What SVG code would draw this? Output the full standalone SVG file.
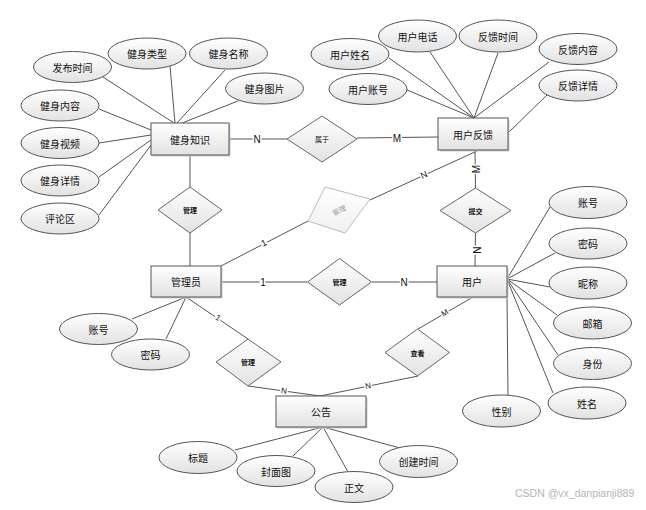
<svg xmlns="http://www.w3.org/2000/svg" width="646" height="510" viewBox="0 0 646 510">
<defs>
<linearGradient id="g" x1="0" y1="0" x2="0" y2="1"><stop offset="0" stop-color="#ffffff"/><stop offset="1" stop-color="#e2e2e2"/></linearGradient>
<linearGradient id="gl" x1="0" y1="0" x2="0" y2="1"><stop offset="0" stop-color="#ffffff"/><stop offset="1" stop-color="#f0f0f0"/></linearGradient>
</defs>
<style>
.e{fill:url(#g);stroke:#555;stroke-width:1}
.r{fill:url(#g);stroke:#555;stroke-width:1}
.sh{fill:#cfcfcf;stroke:none}
.d{fill:url(#g);stroke:#666;stroke-width:1}
.t{font-family:"Noto Sans CJK SC","Liberation Sans",sans-serif;font-size:10px;fill:#111;text-anchor:middle;dominant-baseline:central}
.dt{font-family:"Noto Sans CJK SC","Liberation Sans",sans-serif;font-size:7px;font-weight:bold;fill:#111;text-anchor:middle;dominant-baseline:central}
.c{font-family:"Liberation Sans",sans-serif;font-size:10px;fill:#111;text-anchor:middle;dominant-baseline:central;stroke:#fff;stroke-width:3px;paint-order:stroke}
.l{stroke:#555;stroke-width:1;fill:none}
</style>
<rect width="646" height="510" fill="#fff"/>
<g id="connectors">
<line class="l" x1="103" y1="77" x2="174" y2="123"/>
<line class="l" x1="170" y1="66" x2="175" y2="123"/>
<line class="l" x1="225" y1="70" x2="177" y2="123"/>
<line class="l" x1="238" y1="101" x2="182" y2="123"/>
<line class="l" x1="99" y1="109" x2="151" y2="130"/>
<line class="l" x1="99" y1="143" x2="151" y2="135"/>
<line class="l" x1="99" y1="177" x2="151" y2="140"/>
<line class="l" x1="99" y1="215" x2="151" y2="145"/>
<line class="l" x1="389" y1="58" x2="474" y2="118"/>
<line class="l" x1="430" y1="52" x2="474" y2="118"/>
<line class="l" x1="498" y1="53" x2="474" y2="118"/>
<line class="l" x1="549" y1="62" x2="474" y2="118"/>
<line class="l" x1="407" y1="90" x2="474" y2="118"/>
<line class="l" x1="547" y1="95" x2="508" y2="133"/>
<line class="l" x1="229" y1="139" x2="287" y2="139"/>
<line class="l" x1="357" y1="138" x2="438" y2="137"/>
<line class="l" x1="190" y1="155" x2="190" y2="187"/>
<line class="l" x1="190" y1="233" x2="190" y2="266"/>
<line class="l" x1="475" y1="150" x2="475.5" y2="188"/>
<line class="l" x1="475.5" y1="233" x2="475" y2="266"/>
<line class="l" x1="477" y1="151" x2="370" y2="200"/>
<line class="l" x1="308" y1="221" x2="221" y2="266"/>
<line class="l" x1="221" y1="282" x2="307" y2="282"/>
<line class="l" x1="372" y1="282" x2="437" y2="282"/>
<line class="l" x1="186" y1="297" x2="248" y2="339"/>
<line class="l" x1="248" y1="386" x2="320" y2="396"/>
<line class="l" x1="473" y1="297" x2="418" y2="329"/>
<line class="l" x1="418" y1="376" x2="320" y2="396"/>
<line class="l" x1="132" y1="319" x2="186" y2="297"/>
<line class="l" x1="166" y1="339" x2="186" y2="297"/>
<line class="l" x1="550" y1="207" x2="507" y2="279"/>
<line class="l" x1="555" y1="253" x2="507" y2="279"/>
<line class="l" x1="550" y1="287" x2="507" y2="279"/>
<line class="l" x1="557" y1="315" x2="507" y2="279"/>
<line class="l" x1="558" y1="355" x2="507" y2="279"/>
<line class="l" x1="553" y1="393" x2="507" y2="279"/>
<line class="l" x1="507" y1="297" x2="508" y2="395"/>
<line class="l" x1="235" y1="450" x2="323" y2="427"/>
<line class="l" x1="293" y1="456" x2="323" y2="427"/>
<line class="l" x1="348" y1="472" x2="323" y2="427"/>
<line class="l" x1="400" y1="448" x2="323" y2="427"/>
<text class="c" x="257" y="139">N</text>
<text class="c" x="397" y="138">M</text>
<text class="c" x="476" y="169" transform="rotate(-90 476 169)">M</text>
<text class="c" x="476" y="250" transform="rotate(90 476 250)">N</text>
<text class="c" x="424" y="175" style="font-size:9px" transform="rotate(-25 424 175)">N</text>
<text class="c" x="264" y="243" style="font-size:9px" transform="rotate(-27 264 243)">1</text>
<text class="c" x="263" y="282">1</text>
<text class="c" x="404" y="282">N</text>
<text class="c" x="218" y="318" style="font-size:8px" transform="rotate(34 218 318)">1</text>
<text class="c" x="284" y="391" style="font-size:8px" transform="rotate(8 284 391)">N</text>
<text class="c" x="445" y="313" style="font-size:8px" transform="rotate(-30 445 313)">M</text>
<text class="c" x="368" y="386" style="font-size:8px" transform="rotate(-11 368 386)">N</text>
</g>
<g id="n-jianshenzhishi"><rect class="sh" x="152.5" y="124.5" width="78" height="32"/><rect class="r" x="151" y="123" width="78" height="32"/><text class="t" x="190" y="139">健身知识</text></g>
<g id="n-yonghufankui"><rect class="sh" x="439.5" y="119.5" width="70" height="32"/><rect class="r" x="438" y="118" width="70" height="32"/><text class="t" x="473" y="134">用户反馈</text></g>
<g id="n-guanliyuan"><rect class="sh" x="152.5" y="267.5" width="70" height="31"/><rect class="r" x="151" y="266" width="70" height="31"/><text class="t" x="186" y="281.5">管理员</text></g>
<g id="n-yonghu"><rect class="sh" x="438.5" y="267.5" width="70" height="31"/><rect class="r" x="437" y="266" width="70" height="31"/><text class="t" x="472" y="281.5">用户</text></g>
<g id="n-gonggao"><rect class="sh" x="277.5" y="397.5" width="90" height="31"/><rect class="r" x="276" y="396" width="90" height="31"/><text class="t" x="321" y="411.5">公告</text></g>
<g id="r-shuyu"><polygon class="d" points="322,116 357,139 322,162 287,139"/><text class="dt" x="322" y="139" style="font-weight:normal">属于</text></g>
<g id="r-guanli1"><polygon class="d" points="190,187 222,210 190,233 158,210"/><text class="dt" x="190" y="210">管理</text></g>
<g id="r-guanli-gray"><polygon points="325,187 370,199 345,233 308,221" fill="url(#gl)" stroke="#bbb" stroke-width="1"/><text class="dt" x="339" y="210" style="fill:#999;font-weight:normal" transform="rotate(-25 339 210)">管理</text></g>
<g id="r-guanli2"><polygon class="d" points="339.5,258.5 371.5,282 339.5,305 307.5,282"/><text class="dt" x="339.5" y="282">管理</text></g>
<g id="r-tijiao"><polygon class="d" points="475.5,188 511,210.5 475.5,233 440,210.5"/><text class="dt" x="475.5" y="210.5">提交</text></g>
<g id="r-guanli3"><polygon class="d" points="248,339 281,362 248,386 216,362"/><text class="dt" x="248" y="362">管理</text></g>
<g id="r-chakan"><polygon class="d" points="417.5,329 449.5,352.5 417.5,376 385,352.5"/><text class="dt" x="417.5" y="352.5">查看</text></g>
<g id="a-fabushijian"><ellipse class="e" cx="72.5" cy="67" rx="39" ry="15.5"/><text class="t" x="72.5" y="67">发布时间</text></g>
<g id="a-jianshenleixing"><ellipse class="e" cx="147" cy="53.5" rx="39" ry="15.5"/><text class="t" x="147" y="53.5">健身类型</text></g>
<g id="a-jianshenmingcheng"><ellipse class="e" cx="228.5" cy="53.5" rx="39" ry="15.5"/><text class="t" x="228.5" y="53.5">健身名称</text></g>
<g id="a-jianshentupian"><ellipse class="e" cx="264.5" cy="88.5" rx="39" ry="15.5"/><text class="t" x="264.5" y="88.5">健身图片</text></g>
<g id="a-jianshenneirong"><ellipse class="e" cx="60" cy="105.5" rx="39" ry="15.5"/><text class="t" x="60" y="105.5">健身内容</text></g>
<g id="a-jianshenshipin"><ellipse class="e" cx="60" cy="143" rx="39" ry="15.5"/><text class="t" x="60" y="143">健身视频</text></g>
<g id="a-jianshenxiangqing"><ellipse class="e" cx="60" cy="180.5" rx="39" ry="15.5"/><text class="t" x="60" y="180.5">健身详情</text></g>
<g id="a-pinglunqu"><ellipse class="e" cx="60" cy="218.5" rx="39" ry="15.5"/><text class="t" x="60" y="218.5">评论区</text></g>
<g id="a-yonghuxingming"><ellipse class="e" cx="350" cy="54" rx="39" ry="15.5"/><text class="t" x="350" y="54">用户姓名</text></g>
<g id="a-yonghudianhua"><ellipse class="e" cx="417.5" cy="36" rx="39" ry="16"/><text class="t" x="417.5" y="36">用户电话</text></g>
<g id="a-fankuishijian"><ellipse class="e" cx="498" cy="36" rx="39" ry="16"/><text class="t" x="498" y="36">反馈时间</text></g>
<g id="a-fankuineirong"><ellipse class="e" cx="578" cy="49" rx="39" ry="15.5"/><text class="t" x="578" y="49">反馈内容</text></g>
<g id="a-fankuixiangqing"><ellipse class="e" cx="578" cy="85.5" rx="39" ry="15.5"/><text class="t" x="578" y="85.5">反馈详情</text></g>
<g id="a-yonghuzhanghao"><ellipse class="e" cx="368" cy="89" rx="39" ry="15.5"/><text class="t" x="368" y="89">用户账号</text></g>
<g id="a-zhanghao-u"><ellipse class="e" cx="588" cy="202.5" rx="39" ry="16"/><text class="t" x="588" y="202.5">账号</text></g>
<g id="a-mima-u"><ellipse class="e" cx="588" cy="243.5" rx="39" ry="15.5"/><text class="t" x="588" y="243.5">密码</text></g>
<g id="a-nicheng"><ellipse class="e" cx="588" cy="283" rx="39" ry="16"/><text class="t" x="588" y="283">昵称</text></g>
<g id="a-youxiang"><ellipse class="e" cx="592.5" cy="323" rx="39" ry="16"/><text class="t" x="592.5" y="323">邮箱</text></g>
<g id="a-shenfen"><ellipse class="e" cx="592.5" cy="363.5" rx="39" ry="16"/><text class="t" x="592.5" y="363.5">身份</text></g>
<g id="a-xingming"><ellipse class="e" cx="587" cy="403" rx="39" ry="16"/><text class="t" x="587" y="403">姓名</text></g>
<g id="a-xingbie"><ellipse class="e" cx="501.5" cy="411" rx="39" ry="16"/><text class="t" x="501.5" y="411">性别</text></g>
<g id="a-zhanghao-a"><ellipse class="e" cx="98.5" cy="329" rx="39" ry="15.5"/><text class="t" x="98.5" y="329">账号</text></g>
<g id="a-mima-a"><ellipse class="e" cx="150.5" cy="354.5" rx="39" ry="15.5"/><text class="t" x="150.5" y="354.5">密码</text></g>
<g id="a-biaoti"><ellipse class="e" cx="198" cy="457.5" rx="39" ry="16"/><text class="t" x="198" y="457.5">标题</text></g>
<g id="a-fengmiantu"><ellipse class="e" cx="276" cy="471" rx="39" ry="15.5"/><text class="t" x="276" y="471">封面图</text></g>
<g id="a-zhengwen"><ellipse class="e" cx="354" cy="487" rx="39" ry="15.5"/><text class="t" x="354" y="487">正文</text></g>
<g id="a-chuangjianshijian"><ellipse class="e" cx="418.5" cy="461.5" rx="39" ry="16"/><text class="t" x="418.5" y="461.5">创建时间</text></g>
<text x="515" y="497" font-family="Liberation Sans, sans-serif" font-size="10.5" fill="#b5b5b5">CSDN @vx_danpianji889</text>
</svg>
